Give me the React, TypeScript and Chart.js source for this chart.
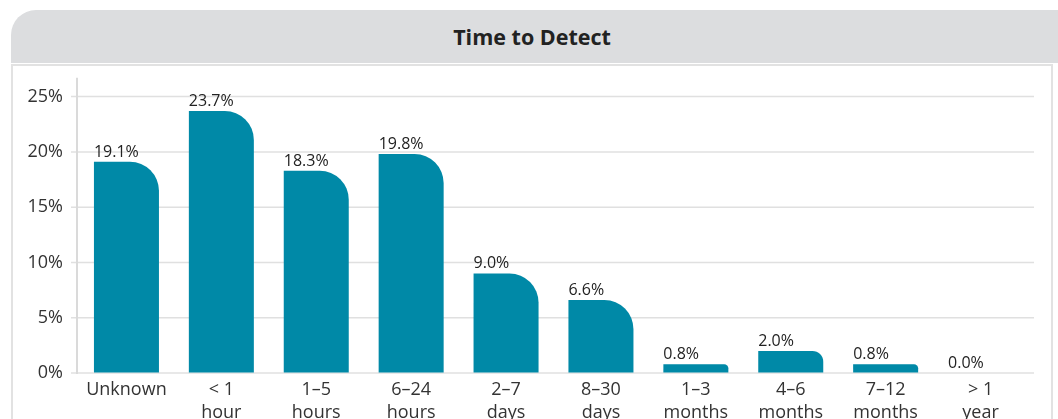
import React, { useEffect, useRef } from "react";
import { Chart, registerables } from "chart.js";

Chart.register(...registerables);

const categories: string[][] = [
  ["Unknown"],
  ["< 1", "hour"],
  ["1–5", "hours"],
  ["6–24", "hours"],
  ["2–7", "days"],
  ["8–30", "days"],
  ["1–3", "months"],
  ["4–6", "months"],
  ["7–12", "months"],
  ["> 1", "year"],
];
const values = [19.1, 23.7, 18.3, 19.8, 9.0, 6.6, 0.8, 2.0, 0.8, 0.0];
const yTicks = [0, 5, 10, 15, 20, 25];
const title = "Time to Detect";

const FONT = "'Open Sans', 'Noto Sans', sans-serif";
const BAR_COLOR = "#0089a7";
const GRID_COLOR = "#e0e0e0";

// Grid lines and y axis line drawn from the y scale, extending a little past the plot area
const gridPlugin = {
  id: "customGrid",
  beforeDatasetsDraw(chart: any) {
    const ctx = chart.ctx;
    const ys = chart.scales.y;
    const { left, right, top, bottom } = chart.chartArea;
    ctx.save();
    ctx.strokeStyle = GRID_COLOR;
    ctx.lineWidth = 1.5;
    yTicks.forEach((v) => {
      const py = ys.getPixelForValue(v);
      ctx.beginPath();
      ctx.moveTo(left - 8, py);
      ctx.lineTo(right + 6, py);
      ctx.stroke();
    });
    ctx.strokeStyle = "#dadada";
    ctx.lineWidth = 2;
    ctx.beginPath();
    ctx.moveTo(left - 2, top);
    ctx.lineTo(left - 2, bottom + 1);
    ctx.stroke();
    ctx.restore();
  },
};

const labelPlugin = {
  id: "barLabels",
  afterDatasetsDraw(chart: any) {
    const ctx = chart.ctx;
    const meta = chart.getDatasetMeta(0);
    ctx.save();
    ctx.font = `16px ${FONT}`;
    ctx.fillStyle = "#222";
    ctx.textAlign = "left";
    ctx.textBaseline = "alphabetic";
    meta.data.forEach((bar: any, i: number) => {
      const { x, y, width } = bar.getProps(["x", "y", "width"], true);
      ctx.fillText(values[i].toFixed(1) + "%", x - width / 2, y - 5);
    });
    ctx.restore();
  },
};

export default function App() {
  const ref = useRef<HTMLCanvasElement>(null);
  useEffect(() => {
    Chart.defaults.font.family = FONT;
    const chart = new Chart(ref.current as HTMLCanvasElement, {
      type: "bar",
      data: {
        labels: categories,
        datasets: [
          {
            data: values,
            backgroundColor: BAR_COLOR,
            borderWidth: 0,
            borderRadius: { topRight: 29, topLeft: 0, bottomLeft: 0, bottomRight: 0 },
            borderSkipped: false,
            barPercentage: 0.685,
            categoryPercentage: 1,
          },
        ],
      },
      options: {
        responsive: false,
        animation: false,
        layout: { padding: { top: 0, right: 22, left: 0, bottom: 0 } },
        plugins: {
          legend: { display: false },
          tooltip: { enabled: false },
        },
        scales: {
          x: {
            grid: { display: false, drawTicks: false },
            border: { display: false },
            ticks: {
              color: "#333",
              font: { size: 18, lineHeight: 1.25 },
              padding: 6,
              maxRotation: 0,
              autoSkip: false,
            },
          },
          y: {
            min: 0,
            max: 26.7,
            afterBuildTicks: (scale: any) => {
              scale.ticks = yTicks.map((v) => ({ value: v }));
            },
            afterFit: (scale: any) => {
              scale.width = 66;
            },
            grid: {
              color: "rgba(0,0,0,0)",
              tickLength: 5,
            },
            border: { display: false },
            ticks: {
              color: "#333",
              font: { size: 18 },
              padding: 11,
              callback: (v: any) => v + "%",
            },
          },
        },
      },
      plugins: [gridPlugin, labelPlugin],
    });
    return () => chart.destroy();
  }, []);

  return (
    <div
      style={{
        position: "fixed",
        left: 0,
        top: 0,
        width: 1058,
        height: 419,
        overflow: "hidden",
        background: "#fff",
      }}
    >
      <div
        style={{
          position: "absolute",
          left: 11,
          top: 10,
          width: 1080,
          height: 53,
          background: "#dcdddf",
          borderTopLeftRadius: 25,
          borderTopRightRadius: 25,
          display: "flex",
          alignItems: "center",
          justifyContent: "center",
        }}
      >
        <span
          style={{
            fontFamily: FONT,
            fontWeight: 700,
            fontSize: 21.5,
            color: "#222",
            marginRight: 38,
          }}
        >
          {title}
        </span>
      </div>
      <div
        style={{
          position: "absolute",
          left: 11,
          top: 64,
          width: 1038,
          height: 400,
          border: "2px solid #e2e2e2",
          boxSizing: "content-box",
        }}
      />
      <div style={{ position: "absolute", left: 13, top: 56 }}>
        <canvas ref={ref} width={1037} height={374} style={{ width: 1037, height: 374, display: "block" }} />
      </div>
    </div>
  );
}
